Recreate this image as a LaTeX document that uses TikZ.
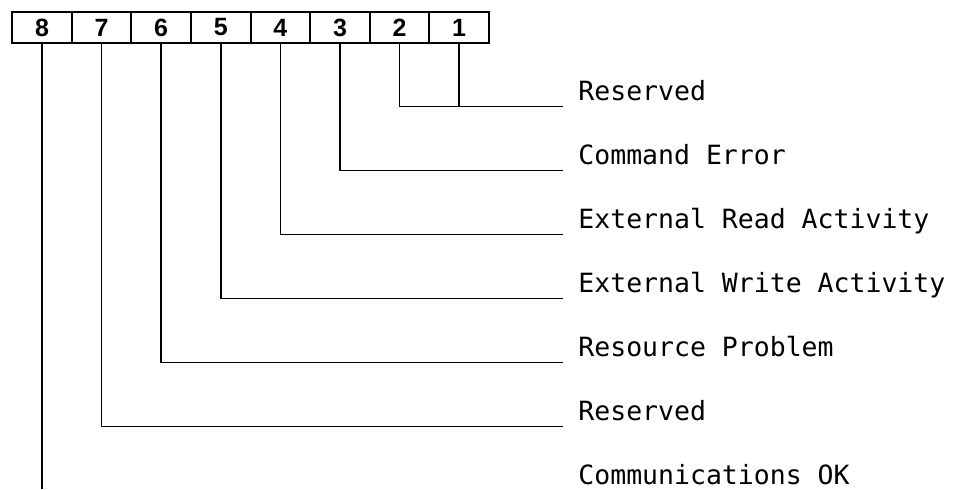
\documentclass[tikz,border=0pt]{standalone}
\usepackage{fontspec}
\setmainfont{Liberation Sans}
\setmonofont{DejaVu Sans Mono}
\usetikzlibrary{positioning}

\tikzset{
    bitcell/.style={draw, line width=1pt, outer sep=0pt, inner sep=0pt,
        minimum width=29.8pt, minimum height=15.5pt,
        font=\fontsize{12.5}{14}\selectfont\bfseries},
    bitname/.style={anchor=base west, inner xsep=7.5pt, inner ysep=0pt,
        text depth=3pt, font=\ttfamily\fontsize{13.25}{15}\selectfont},
    wire/.style={line width=0.8pt}
}

\begin{document}
\begin{tikzpicture}[x=0.5pt, y=-0.5pt]
    \useasboundingbox (0,0) rectangle (955,489);
    \coordinate (cut) at (0,489);

    % Register bits
    \node[bitcell] (c8) at (42,27.5) {8};
    \node[bitcell, right=0pt of c8] (c7) {7};
    \node[bitcell, right=0pt of c7] (c6) {6};
    \node[bitcell, right=0pt of c6] (c5) {5};
    \node[bitcell, right=0pt of c5] (c4) {4};
    \node[bitcell, right=0pt of c4] (c3) {3};
    \node[bitcell, right=0pt of c3] (c2) {2};
    \node[bitcell, right=0pt of c2] (c1) {1};

    % Bit meanings
    \node[bitname] (n1) at (563,100) {Reserved};
    \node[bitname] (n3) at (563,164) {Command Error};
    \node[bitname] (n4) at (563,228) {External Read Activity};
    \node[bitname] (n5) at (563,292) {External Write Activity};
    \node[bitname] (n6) at (563,356) {Resource Problem};
    \node[bitname] (n7) at (563,420) {Reserved};
    \node[bitname] (n8) at (563,484) {Communications OK};

    % Leads
    \draw[wire] (c2.south) |- (n1.south west);
    \draw[wire] (c1.south) -- (c1.south |- n1.south west);
    \draw[wire] (c3.south) |- (n3.south west);
    \draw[wire] (c4.south) |- (n4.south west);
    \draw[wire] (c5.south) |- (n5.south west);
    \draw[wire] (c6.south) |- (n6.south west);
    \draw[wire] (c7.south) |- (n7.south west);
    \draw[wire] (c8.south) -- (c8.south |- cut);
\end{tikzpicture}
\end{document}
